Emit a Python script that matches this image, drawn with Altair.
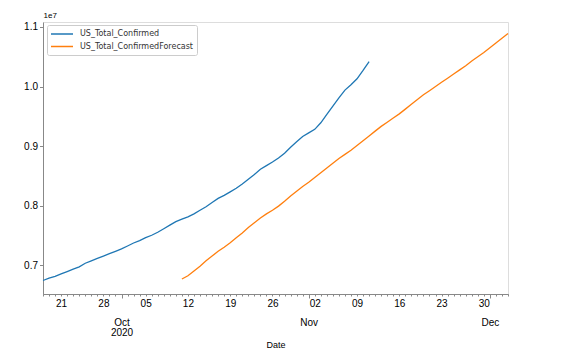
import altair as alt
import pandas as pd

# ---- data (values in millions) ----
confirmed_start = "2020-09-18"
confirmed_values = [
    6.74, 6.78, 6.81, 6.85, 6.89, 6.93, 6.97, 7.03, 7.07, 7.11, 7.15, 7.19, 7.23,   # Sep 18-30
    7.27, 7.32, 7.37, 7.41, 7.46, 7.50, 7.55, 7.61, 7.67, 7.73, 7.77, 7.81, 7.86,   # Oct 1-13
    7.92, 7.98, 8.05, 8.12, 8.17, 8.23, 8.29, 8.36, 8.44, 8.52, 8.61, 8.67, 8.73,   # Oct 14-26
    8.80, 8.88, 8.98, 9.07, 9.16,                                                   # Oct 27-31
    9.22, 9.28, 9.39, 9.53, 9.67, 9.81, 9.94, 10.03, 10.13, 10.27, 10.42,           # Nov 1-11
]
forecast_start = "2020-10-11"
forecast_values = [
    6.765, 6.82, 6.90, 6.98, 7.07, 7.15, 7.23, 7.30, 7.375, 7.46, 7.54,             # Oct 11-21
    7.63, 7.71, 7.79, 7.86, 7.92, 7.99, 8.07, 8.16, 8.24, 8.32,                     # Oct 22-31
    8.39, 8.47, 8.55, 8.63, 8.71, 8.79, 8.86, 8.93, 9.01, 9.09,                     # Nov 1-10
    9.17, 9.25, 9.33, 9.40, 9.47, 9.54, 9.62, 9.70, 9.78, 9.86,                     # Nov 11-20
    9.93, 10.00, 10.07, 10.14, 10.21, 10.28, 10.35, 10.43, 10.50, 10.57,            # Nov 21-30
    10.65, 10.73, 10.81, 10.89,                                                     # Dec 1-4
]
series_names = ["US_Total_Confirmed", "US_Total_ConfirmedForecast"]
series_colors = ["#1f77b4", "#ff7f0e"]
y_ticks = [7e6, 8e6, 9e6, 10e6, 11e6]
x_start = "2020-09-18"
x_end = "2020-12-04"
month_starts = ["2020-10-01", "2020-11-01", "2020-12-01"]

conf_dates = pd.date_range(confirmed_start, periods=len(confirmed_values), freq="D")
fc_dates = pd.date_range(forecast_start, periods=len(forecast_values), freq="D")
df = pd.concat([
    pd.DataFrame({"Date": conf_dates.strftime("%Y-%m-%d"),
                  "value": [v * 1e6 for v in confirmed_values],
                  "series": series_names[0]}),
    pd.DataFrame({"Date": fc_dates.strftime("%Y-%m-%d"),
                  "value": [v * 1e6 for v in forecast_values],
                  "series": series_names[1]}),
], ignore_index=True)


def dt(s):
    t = pd.Timestamp(s)
    return alt.DateTime(year=t.year, month=t.month, date=t.day, utc=True)


day_values = [dt(d) for d in pd.date_range(x_start, x_end, freq="D")]
month_values = [dt(d) for d in month_starts]

FONT = "DejaVu Sans"
AX = "#555555"
TXT = "#333333"

x_scale = alt.Scale(type="utc", domain=[dt(x_start), dt(x_end)], nice=False)
y_scale = alt.Scale(domain=[6.513e6, 11.084e6], nice=False, zero=False)

y_enc = alt.Y("value:Q", scale=y_scale,
              axis=alt.Axis(values=y_ticks, labelExpr="format(datum.value/1e7, '.1f')",
                            tickSize=3.5, labelPadding=2, grid=False,
                            title="1e7", titleAngle=0, titleX=0, titleY=-7,
                            titleAlign="left", titleBaseline="middle",
                            titleFontWeight="normal", titleFontSize=8))

lines = alt.Chart(df).mark_line(strokeWidth=1.3).encode(
    x=alt.X("Date:T", scale=x_scale,
            axis=alt.Axis(orient="bottom", values=day_values, tickSize=2,
                          labelExpr="utcday(datum.value)==1 ? utcFormat(datum.value, '%d') : ''",
                          labelOverlap=False, labelPadding=2, title=None, grid=False)),
    y=y_enc,
    color=alt.Color("series:N",
                    scale=alt.Scale(domain=series_names, range=series_colors),
                    legend=alt.Legend(title=None, orient="none", legendX=4, legendY=3,
                                      symbolType="M-2.75,0L2.75,0", symbolSize=64,
                                      symbolStrokeWidth=1.5, symbolOffset=6,
                                      labelOffset=13,
                                      labelFontSize=8, labelFont=FONT, labelColor=TXT,
                                      fillColor="white", strokeColor="#cccccc",
                                      cornerRadius=2, padding=4, rowPadding=3.5)),
    detail="series:N",
)

months = alt.Chart(df).mark_line(opacity=0).encode(
    x=alt.X("Date:T", scale=x_scale,
            axis=alt.Axis(orient="bottom", values=month_values, tickSize=4,
                          labelExpr="utcmonth(datum.value)==9 ? ['Oct', '2020'] : utcFormat(datum.value, '%b')",
                          labelOverlap=False, labelPadding=19, labelLineHeight=10,
                          title="Date", titleY=50, titleBaseline="middle",
                          titleFontWeight="normal", titleFontSize=9, grid=False)),
    y=y_enc,
    detail="series:N",
)

chart = alt.layer(lines, months).resolve_axis(x="independent").properties(
    width=465, height=272,
    autosize=alt.AutoSizeParams(type="none"),
    padding={"left": 43, "top": 22, "right": 59, "bottom": 60},
).configure_view(stroke=AX, strokeWidth=1).configure_axis(
    domainColor=AX, tickColor=AX, labelColor=TXT, titleColor=TXT,
    labelFont=FONT, titleFont=FONT, labelFontSize=8,
).configure(background="white")

chart.save("out.html", embed_options={"renderer": "svg", "actions": False})
